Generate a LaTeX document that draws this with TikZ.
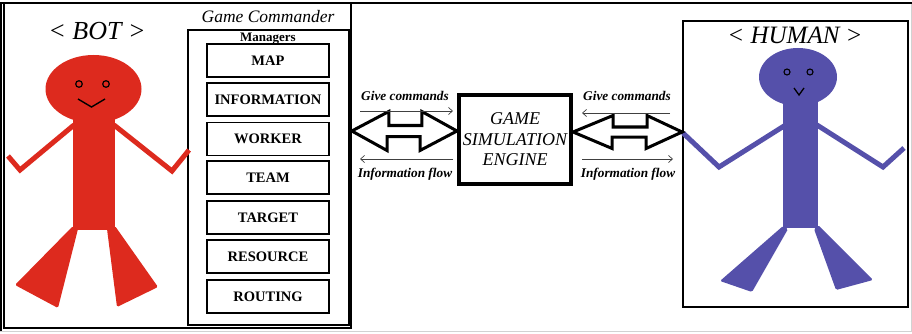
\documentclass[tikz,border=0pt]{standalone}
\usepackage{fontspec}
\setmainfont{Liberation Serif}
\usetikzlibrary{arrows.meta,calc}
\definecolor{botred}{RGB}{221,42,30}
\definecolor{humblue}{RGB}{85,80,170}
\begin{document}
\begin{tikzpicture}[x=1pt,y=-1pt,
  panel/.style={draw, line width=1.6pt, inner sep=0pt, rectangle},
  mgrbox/.style={draw, line width=1.8pt, inner sep=0pt, minimum width=122pt,
    minimum height=33pt, font=\fontsize{14.5}{14.5}\selectfont\bfseries},
  enginebox/.style={draw, line width=4pt, inner sep=0pt, minimum width=112pt,
    minimum height=89pt},
  flowlabel/.style={font=\fontsize{13.3}{13.3}\selectfont\bfseries\itshape, inner sep=0pt},
  flowarrow/.style={line width=0.7pt, black!75, -{Straight Barb[length=4pt,width=7pt]}},
  bigarrow/.style={draw=black, fill=white, line width=3pt, line join=miter},
  limb/.style={line width=5pt, line join=miter}]
\useasboundingbox (0,0) rectangle (912,334);

% outer frame
\draw[gray!35, line width=1pt] (911.5,3) -- (911.5,331.5) -- (0,331.5);
\draw[line width=2.2pt] (0,3) -- (912,3);
\draw[line width=1.5pt] (1.2,3) -- (1.2,331);

% bot side
\node[panel, minimum width=347pt, minimum height=325pt] (botpanel) at (177.5,165.5) {};
\node[panel, minimum width=161pt, minimum height=295pt] (mgrs) at (268.5,177.5) {};
\node[font=\fontsize{17.5}{17.5}\selectfont\itshape] (gc) at (268,16.5) {Game Commander};
\node[font=\fontsize{13}{13}\selectfont\bfseries, inner sep=0pt] (mlabel) at (268,38.5) {Managers};

\node[mgrbox] (map)  at (268,60.5)  {MAP};
\node[mgrbox] (info) at (268,99.5)  {INFORMATION};
\node[mgrbox] (work) at (268,139)   {WORKER};
\node[mgrbox] (team) at (268,177.5) {TEAM};
\node[mgrbox] (targ) at (268,217.5) {TARGET};
\node[mgrbox] (res)  at (268,256.5) {RESOURCE};
\node[mgrbox] (rout) at (268,296.5) {ROUTING};

\node[font=\fontsize{26}{26}\selectfont\itshape] (botlabel) at (97,31) {< BOT >};

% red stick figure
\begin{scope}[botred]
  \fill (93.5,89) ellipse [x radius=48pt, y radius=34pt];
  \fill (73,112) rectangle (115,230);
  \draw[limb] (74,125) -- (20,170) -- (8,156);
  \draw[limb] (114,125) -- (172,171) -- (189,150);
  \fill[rounded corners=1.5pt] (73,226) -- (15,285) -- (58,308) -- (78,229) -- cycle;
  \fill[rounded corners=1.5pt] (107,229) -- (117,307) -- (158,287) -- (115,226) -- cycle;
\end{scope}
\draw[line width=1.2pt] (79,84) circle [radius=3.3pt] (106,84) circle [radius=3.3pt];
\draw[line width=1.4pt] (78,99) -- (91.5,107) -- (105,99);

% simulation engine
\node[enginebox, font=\fontsize{18}{20.5}\selectfont\itshape, align=center] (eng) at (515,139.5)
  {GAME\\SIMULATION\\ENGINE};

% human side
\node[panel, line width=1.8pt, minimum width=225pt, minimum height=286pt] (human) at (795.5,164) {};
\node[font=\fontsize{25}{25}\selectfont\itshape] (humlabel) at (795,35) {< HUMAN >};

\begin{scope}[humblue]
  \fill (798,77) ellipse [x radius=39pt, y radius=29pt];
  \fill (783,98) rectangle (818,228);
  \draw[limb] (784,126) -- (719,167) -- (683,133);
  \draw[limb] (817,125) -- (883,167) -- (904,148);
  \fill[rounded corners=1.5pt] (783,226) -- (720,281) -- (752,292) -- (788,229) -- cycle;
  \fill[rounded corners=1.5pt] (814,229) -- (836,290) -- (873,280) -- (818,225) -- cycle;
\end{scope}
\draw[line width=1.1pt] (787,72) circle [radius=3pt] (810,72) circle [radius=3pt];
\draw[line width=1.3pt] (794,88) -- (799,95) -- (804,88);

% double arrows between the panels and the engine
\draw[bigarrow] (botpanel.east |- 0,131) -- ++(37,-19.5) -- ++(0,14) -- ++(33,0) -- ++(0,-14)
  -- (eng.west |- 0,131) -- ++(-37,19.5) -- ++(0,-14) -- ++(-33,0) -- ++(0,14) -- cycle;
\draw[bigarrow] (eng.east |- 0,132) -- ++(40,-16.5) -- ++(0,11.5) -- ++(34,0) -- ++(0,-11.5)
  -- (human.west |- 0,132) -- ++(-36,16.5) -- ++(0,-11.5) -- ++(-34,0) -- ++(0,11.5) -- cycle;

% flow annotations
\node[flowlabel] (gcl) at (405,96) {Give commands};
\node[flowlabel] (ifl) at (405,174) {Information flow};
\node[flowlabel] (gcr) at (627,96) {Give commands};
\node[flowlabel] (ifr) at (628,174) {Information flow};
\coordinate (gcla) at (360,111);  \coordinate (gclb) at (453,111);
\coordinate (ifla) at (453,159);  \coordinate (iflb) at (360,159);
\coordinate (gcra) at (670,113);  \coordinate (gcrb) at (582,113);
\coordinate (ifra) at (582,159);  \coordinate (ifrb) at (673,159);
\draw[flowarrow] (gcla) -- (gclb);
\draw[flowarrow] (ifla) -- (iflb);
\draw[flowarrow] (gcra) -- (gcrb);
\draw[flowarrow] (ifra) -- (ifrb);
\end{tikzpicture}
\end{document}
